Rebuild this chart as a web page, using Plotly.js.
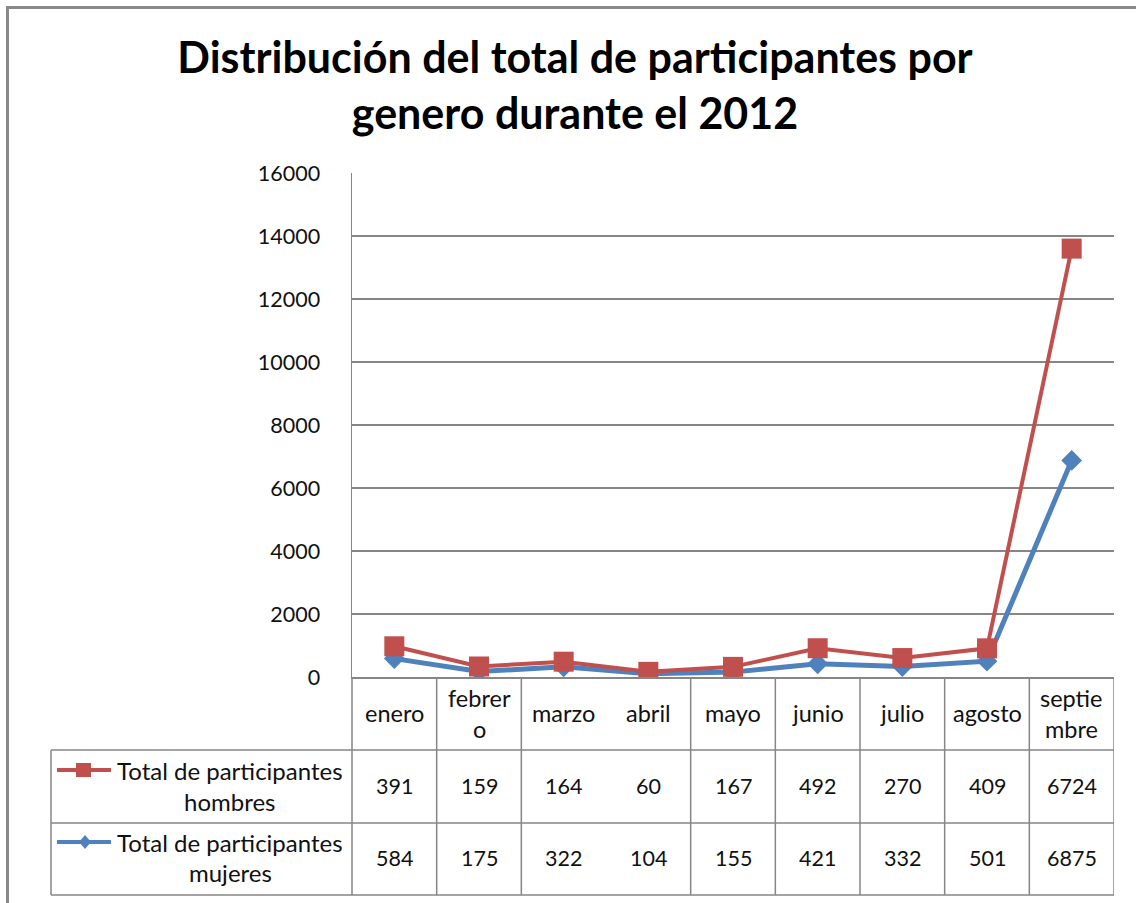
<!DOCTYPE html>
<html>
<head>
<meta charset="utf-8">
<script src="https://cdn.plot.ly/plotly-3.0.1.min.js"></script>
<style>html,body{margin:0;padding:0;background:#fff;}#chart{width:1136px;height:903px;}</style>
</head>
<body>
<div id="chart"></div>
<script>
// ---- data ----
const months = ["enero","febrero","marzo","abril","mayo","junio","julio","agosto","septiembre"];
const headerLabels = ["enero","febrer\no","marzo","abril","mayo","junio","julio","agosto","septie\nmbre"];
const hombres = [391,159,164,60,167,492,270,409,6724];
const mujeres = [584,175,322,104,155,421,332,501,6875];
const seriesNames = ["Total de participantes\nhombres","Total de participantes\nmujeres"];
const yTicks = [0,2000,4000,6000,8000,10000,12000,14000,16000];
const titleText = "Distribución del total de participantes por<br>genero durante el 2012";

// ---- geometry helpers (pixel -> paper) ----
const L = 352, R = 1114, T = 173, B = 677;
const W = 1136, H = 903;
const PX = p => (p - L) / (R - L);
const PY = p => (B - p) / (B - T);

const RED = "#C0504D", BLUE = "#4F81BD", GRID = "#868686";
const FONT = "Lato, 'Open Sans', sans-serif";
const TXT = "#111";

const traces = [
  {x: months, y: mujeres, name: "Total de participantes mujeres", type: "scatter", mode: "lines+markers",
   stackgroup: "s", fill: "none", line: {color: BLUE, width: 5},
   marker: {symbol: "diamond", size: 16, color: BLUE}},
  {x: months, y: hombres, name: "Total de participantes hombres", type: "scatter", mode: "lines+markers",
   stackgroup: "s", fill: "none", line: {color: RED, width: 4},
   marker: {symbol: "square", size: 20, color: RED}}
];

const shapes = [];
const annotations = [];
const lineStyle = {color: GRID, width: 1.5};

// outer chart border (top and left edges visible in the picture)
shapes.push({type: "line", xref: "paper", yref: "paper", x0: PX(7), x1: PX(W), y0: PY(7.5), y1: PY(7.5),
  line: {color: "#8a8a8a", width: 3}, layer: "below"});
shapes.push({type: "line", xref: "paper", yref: "paper", x0: PX(7.5), x1: PX(7.5), y0: PY(6), y1: PY(H),
  line: {color: "#8a8a8a", width: 3}, layer: "below"});

// table horizontal lines
[750, 823, 895].forEach(py => shapes.push({type: "line", xref: "paper", yref: "paper",
  x0: PX(51), x1: 1, y0: PY(py), y1: PY(py), line: lineStyle}));
// left of legend column
shapes.push({type: "line", xref: "paper", yref: "paper", x0: PX(51), x1: PX(51), y0: PY(750), y1: PY(895), line: lineStyle});
// axis extension into table
shapes.push({type: "line", xref: "paper", yref: "paper", x0: 0, x1: 0, y0: 0, y1: PY(895), line: lineStyle});
// category separators (marzo/abril boundary not drawn in the original)
for (let i = 1; i <= months.length; i++) {
  if (i === 3) continue;
  shapes.push({type: "line", xref: "x", yref: "paper", x0: i - 0.5, x1: i - 0.5, y0: 0, y1: PY(895), line: lineStyle});
}

// header labels
headerLabels.forEach((lab, i) => {
  const parts = lab.split("\n");
  const centers = parts.length === 1 ? [713] : [698, 729];
  parts.forEach((t, k) => annotations.push({xref: "x", yref: "paper", x: i, y: PY(centers[k]), text: t,
    showarrow: false, xanchor: "center", yanchor: "middle", font: {family: FONT, size: 23.5, color: TXT}}));
});

// values
const rows = [hombres, mujeres];
const rowCenters = [786, 858];
rows.forEach((vals, r) => vals.forEach((v, i) => annotations.push({xref: "x", yref: "paper", x: i, y: PY(rowCenters[r]),
  text: String(v), showarrow: false, xanchor: "center", yanchor: "middle", font: {family: FONT, size: 21.5, color: TXT}})));

// legend labels in table
const labelLines = [[770, 801], [842, 872]];
seriesNames.forEach((nm, r) => nm.split("\n").forEach((t, k) => annotations.push({xref: "paper", yref: "paper",
  x: PX(230), y: PY(labelLines[r][k]), text: t, showarrow: false, xanchor: "center", yanchor: "middle",
  font: {family: FONT, size: 24, color: TXT}})));

// legend keys
shapes.push({type: "line", xref: "paper", yref: "paper", x0: PX(57), x1: PX(111), y0: PY(770), y1: PY(770), line: {color: RED, width: 4}});
shapes.push({type: "rect", xref: "paper", yref: "paper", x0: PX(76), x1: PX(91), y0: PY(763), y1: PY(777), fillcolor: RED, line: {width: 0}});
shapes.push({type: "line", xref: "paper", yref: "paper", x0: PX(57), x1: PX(111), y0: PY(842), y1: PY(842), line: {color: BLUE, width: 4}});
shapes.push({type: "path", xref: "paper", yref: "paper",
  path: `M ${PX(79)} ${PY(842)} L ${PX(85)} ${PY(835)} L ${PX(91)} ${PY(842)} L ${PX(85)} ${PY(849)} Z`,
  fillcolor: BLUE, line: {width: 0}});

const layout = {
  width: W, height: H,
  paper_bgcolor: "#fff", plot_bgcolor: "#fff",
  margin: {l: L, r: W - R, t: T, b: H - B, pad: 0},
  showlegend: false,
  title: {text: titleText, xref: "container", yref: "container", x: 575 / W, y: 1 - 73 / H,
    xanchor: "center", yanchor: "middle", font: {family: FONT, size: 43, color: "#000", weight: "bold"}},
  xaxis: {type: "category", range: [-0.5, months.length - 0.5], showticklabels: false, ticks: "",
    showgrid: false, zeroline: false, showline: true, linecolor: GRID, linewidth: 1.5, fixedrange: true},
  yaxis: {range: [0, 16000], tickvals: yTicks, ticktext: yTicks.map(String), ticks: "",
    showgrid: true, gridcolor: GRID, gridwidth: 1.5, zeroline: false,
    showline: true, linecolor: GRID, linewidth: 1.5, ticklabelstandoff: 26,
    tickfont: {family: FONT, size: 21.5, color: TXT}, fixedrange: true},
  shapes: shapes,
  annotations: annotations
};

Plotly.newPlot("chart", traces, layout, {displayModeBar: false, staticPlot: true});
</script>
</body>
</html>
